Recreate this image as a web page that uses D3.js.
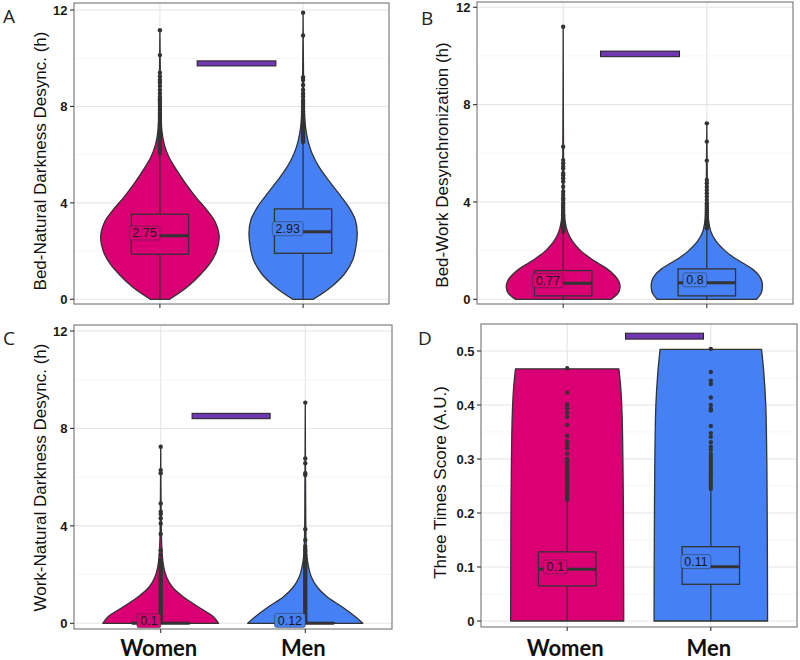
<!DOCTYPE html>
<html><head><meta charset="utf-8">
<script src="https://cdn.jsdelivr.net/npm/d3@7"></script>
<style>body{margin:0;background:#fff} svg{display:block}</style>
</head><body><svg id="c" width="800" height="660"></svg>
<script>
// ---------------- DATA ----------------
const categories = ["Women", "Men"];
const panelIds = ["A", "B", "C", "D"];
const yTitles = ["Bed-Natural Darkness Desync. (h)", "Bed-Work Desynchronization (h)",
                 "Work-Natural Darkness Desync. (h)", "Three Times Score (A.U.)"];
const yTicksHours = [0, 4, 8, 12];
const yMinorHours = [2, 6, 10];
const yTicksScore = [0, 0.1, 0.2, 0.3, 0.4, 0.5];
const yMinorScore = [0.05, 0.15, 0.25, 0.35, 0.45];
const yTickLabelsScore = ["0", "0.1", "0.2", "0.3", "0.4", "0.5"];

// violin profiles: [value, relative half-width (1 = 0.45 category step)]
const violinA_Women = [[0,0.15],[0.5,0.42],[1.0,0.62],[1.5,0.78],[2.0,0.88],[2.6,0.92],[3.2,0.86],[3.7,0.73],[4.2,0.57],[4.8,0.40],[5.4,0.25],[5.9,0.14],[6.4,0.07],[7.0,0.03],[8.0,0.012],[9.5,0.006],[11.16,0]];
const violinA_Men   = [[0,0.16],[0.52,0.44],[1.08,0.65],[1.63,0.77],[2.18,0.82],[2.74,0.84],[3.3,0.81],[3.86,0.70],[4.4,0.55],[4.95,0.39],[5.5,0.245],[6.05,0.14],[6.53,0.08],[7.1,0.04],[8.0,0.015],[9.5,0.006],[11.89,0]];
const violinB_Women = [[0,0.74],[0.25,0.85],[0.5,0.88],[0.75,0.86],[1.0,0.79],[1.25,0.68],[1.5,0.53],[1.75,0.39],[2.0,0.27],[2.4,0.14],[2.8,0.065],[3.2,0.03],[3.7,0.015],[5.0,0.007],[11.25,0]];
const violinB_Men   = [[0,0.77],[0.25,0.84],[0.5,0.86],[0.75,0.85],[1.0,0.80],[1.25,0.70],[1.5,0.55],[1.75,0.40],[2.0,0.28],[2.4,0.14],[2.8,0.06],[3.2,0.03],[3.7,0.015],[5.0,0.007],[7.25,0]];
const violinC_Women = [[0,0.89],[0.27,0.81],[0.68,0.575],[1.09,0.345],[1.5,0.175],[1.91,0.088],[2.32,0.046],[2.73,0.026],[3.5,0.012],[5.0,0.005],[7.25,0]];
const violinC_Men   = [[0,0.885],[0.27,0.77],[0.68,0.565],[1.09,0.334],[1.5,0.18],[1.91,0.092],[2.32,0.05],[2.73,0.026],[3.5,0.012],[5.0,0.006],[9.06,0]];
const violinD_Women = [[0,0.875],[0.1,0.873],[0.2,0.87],[0.3,0.862],[0.38,0.85],[0.43,0.83],[0.467,0.80]];
const violinD_Men   = [[0,0.878],[0.1,0.876],[0.2,0.872],[0.3,0.866],[0.4,0.85],[0.46,0.82],[0.503,0.785]];

// boxplots: [lower whisker, Q1, median, Q3, upper whisker]
const boxA_Women = [0, 1.87, 2.64, 3.53, 6.02];
const boxA_Men   = [0, 1.91, 2.80, 3.75, 6.51];
const boxB_Women = [0, 0.14, 0.66, 1.18, 2.74];
const boxB_Men   = [0, 0.14, 0.68, 1.25, 2.90];
const boxC_Women = [0, 0, 0.005, 0.03, 0.06];
const boxC_Men   = [0, 0, 0.005, 0.03, 0.06];
const boxD_Women = [0, 0.065, 0.0957, 0.128, 0.222];
const boxD_Men   = [0, 0.068, 0.1006, 0.1376, 0.242];

// mean labels
const meansA = [2.75, 2.93];
const meansB = [0.77, 0.8];
const meansC = [0.1, 0.12];
const meansD = [0.1, 0.11];

// outliers
const outliersA_Women = [6.05,6.12,6.2,6.28,6.35,6.43,6.5,6.58,6.66,6.73,6.8,6.9,6.98,7.06,7.15,7.22,7.3,7.4,7.48,7.56,7.65,7.73,7.82,7.9,8.0,8.1,8.2,8.3,8.4,8.54,8.68,8.85,8.99,9.1,9.24,9.4,10.13,11.16];
const outliersA_Men   = [6.52,6.6,6.68,6.75,6.83,6.9,6.98,7.06,7.14,7.22,7.3,7.38,7.46,7.55,7.63,7.72,7.8,7.9,8.0,8.1,8.18,8.27,8.41,8.54,8.68,8.89,9.1,9.21,10.94,11.89];
const outliersB_Women = [2.78,2.85,2.92,3.0,3.07,3.14,3.22,3.3,3.38,3.45,3.52,3.6,3.68,3.76,3.85,3.95,4.08,4.15,4.29,4.42,4.63,4.84,4.97,5.1,5.18,5.38,5.45,5.59,5.72,6.27,11.2];
const outliersB_Men   = [2.92,2.98,3.05,3.12,3.2,3.27,3.35,3.42,3.5,3.58,3.65,3.72,3.8,3.88,3.95,4.08,4.22,4.36,4.49,4.63,4.77,4.9,5.7,6.48,7.23];
const outliersC_Women = [0.06,0.13,0.2,0.27,0.34,0.41,0.48,0.55,0.62,0.69,0.76,0.83,0.9,0.97,1.04,1.11,1.18,1.25,1.32,1.39,1.46,1.53,1.6,1.67,1.74,1.81,1.88,1.95,2.02,2.09,2.16,2.23,2.3,2.37,2.44,2.52,2.6,2.8,3.0,3.67,4.1,4.31,4.49,4.58,4.92,6.16,6.29,7.25];
const outliersC_Men   = [0.06,0.13,0.2,0.27,0.34,0.41,0.48,0.55,0.62,0.69,0.76,0.83,0.9,0.97,1.04,1.11,1.18,1.25,1.32,1.39,1.46,1.53,1.6,1.67,1.74,1.81,1.88,1.95,2.02,2.09,2.16,2.23,2.3,2.37,2.44,2.52,2.66,2.8,2.94,3.04,3.15,3.42,3.86,6.09,6.16,6.57,6.77,9.06];
const outliersD_Women = [0.225,0.23,0.235,0.24,0.245,0.25,0.255,0.26,0.265,0.27,0.275,0.28,0.285,0.29,0.295,0.3,0.31,0.32,0.327,0.333,0.343,0.363,0.378,0.386,0.394,0.401,0.423,0.468];
const outliersD_Men   = [0.245,0.25,0.255,0.26,0.265,0.27,0.275,0.28,0.285,0.29,0.295,0.3,0.305,0.31,0.317,0.323,0.331,0.341,0.348,0.361,0.39,0.393,0.4,0.414,0.439,0.445,0.461,0.504];

// significance bars: [x start (category units), x end, y low, y high]
const sigBarA = [1.26, 1.81, 9.68, 9.89];
const sigBarB = [1.26, 1.81, 9.97, 10.2];
const sigBarC = [1.217, 1.757, 8.40, 8.62];
const sigBarD = [1.406, 1.949, 0.522, 0.533];

// ---------------- STYLE / LAYOUT ----------------
const colors = {Women: "#DA0074", Men: "#4580F4"};
const sigColor = "#7038B0";
const ink = "#333333";
const layout = {
  A: {left:74,  right:389, top:3,   bottom:304, yZero:299.3, yTop:10,  topVal:12,  titleX:45.5,  titleY:161,   letterX:3,   letterY:23},
  B: {left:477, right:793, top:2,   bottom:304, yZero:299.3, yTop:7.3, topVal:12,  titleX:447.5, titleY:165,   letterX:421, letterY:25},
  C: {left:74,  right:392, top:325, bottom:629, yZero:623.3, yTop:331, topVal:12,  titleX:45.5,  titleY:477.5, letterX:3,   letterY:345},
  D: {left:481, right:797, top:324, bottom:627, yZero:621,   yTop:351, topVal:0.5, titleX:445.5, titleY:482.5, letterX:418, letterY:345}
};

const panelData = {
  A: {violins:[violinA_Women, violinA_Men], boxes:[boxA_Women, boxA_Men], means:meansA, outliers:[outliersA_Women, outliersA_Men], sig:sigBarA},
  B: {violins:[violinB_Women, violinB_Men], boxes:[boxB_Women, boxB_Men], means:meansB, outliers:[outliersB_Women, outliersB_Men], sig:sigBarB},
  C: {violins:[violinC_Women, violinC_Men], boxes:[boxC_Women, boxC_Men], means:meansC, outliers:[outliersC_Women, outliersC_Men], sig:sigBarC},
  D: {violins:[violinD_Women, violinD_Men], boxes:[boxD_Women, boxD_Men], means:meansD, outliers:[outliersD_Women, outliersD_Men], sig:sigBarD}
};

const svg = d3.select("#c");

panelIds.forEach((id, pi) => {
  const L = layout[id];
  const P = panelData[id];
  const isScore = id === "D";
  const g = svg.append("g");

  const x = d3.scalePoint().domain(categories).range([L.left, L.right]).padding(0.6);
  const step = x.step();
  const xc = d3.scaleLinear().domain([1, 2]).range([x("Women"), x("Men")]);
  const y = d3.scaleLinear().domain([0, L.topVal]).range([L.yZero, L.yTop]);
  const w = d3.scaleLinear().domain([0, 1]).range([0, 0.45 * step]);

  const majors = isScore ? yTicksScore : yTicksHours;
  const minors = isScore ? yMinorScore : yMinorHours;

  // background
  g.append("rect").attr("x", L.left).attr("y", L.top).attr("width", L.right - L.left).attr("height", L.bottom - L.top).attr("fill", "#fff");
  // grid
  g.selectAll(".minor").data(minors).join("line")
    .attr("x1", L.left).attr("x2", L.right).attr("y1", d => y(d)).attr("y2", d => y(d))
    .attr("stroke", "#F2F2F2").attr("stroke-width", 0.7);
  g.selectAll(".major").data(majors).join("line")
    .attr("x1", L.left).attr("x2", L.right).attr("y1", d => y(d)).attr("y2", d => y(d))
    .attr("stroke", "#E6E6E6").attr("stroke-width", 1.1);
  g.selectAll(".vmajor").data(categories).join("line")
    .attr("x1", d => x(d)).attr("x2", d => x(d)).attr("y1", L.top).attr("y2", L.bottom)
    .attr("stroke", "#E6E6E6").attr("stroke-width", 1.1);

  categories.forEach((cat, ci) => {
    const cx = x(cat);
    const prof = P.violins[ci];
    const area = d3.area()
      .y(d => y(d[0]))
      .x0(d => cx - w(d[1]))
      .x1(d => cx + w(d[1]))
      .curve(d3.curveCatmullRom.alpha(0.5));
    g.append("path").datum(prof).attr("d", area)
      .attr("fill", colors[cat]).attr("stroke", ink).attr("stroke-width", 1.3).attr("stroke-linejoin", "round");

    // boxplot
    const b = P.boxes[ci];
    const bw = 0.4 * step;
    g.append("line").attr("x1", cx).attr("x2", cx).attr("y1", y(b[0])).attr("y2", y(b[1]))
      .attr("stroke", ink).attr("stroke-width", 1.3);
    g.append("line").attr("x1", cx).attr("x2", cx).attr("y1", y(b[3])).attr("y2", y(b[4]))
      .attr("stroke", ink).attr("stroke-width", 1.3);
    g.append("rect").attr("x", cx - bw / 2).attr("width", bw)
      .attr("y", y(b[3])).attr("height", Math.max(0.5, y(b[1]) - y(b[3])))
      .attr("fill", "none").attr("stroke", ink).attr("stroke-width", 1.3);
    g.append("line").attr("x1", cx - bw / 2).attr("x2", cx + bw / 2).attr("y1", y(b[2])).attr("y2", y(b[2]))
      .attr("stroke", ink).attr("stroke-width", 3);

    // outliers
    g.selectAll(null).data(P.outliers[ci]).join("circle")
      .attr("cx", cx).attr("cy", d => y(d)).attr("r", 2.2).attr("fill", ink);

    // mean label
    const ym = y(P.means[ci]);
    const lg = g.append("g");
    const rect = lg.append("rect");
    const t = lg.append("text").text(P.means[ci])
      .attr("x", cx - 3.2).attr("y", ym).attr("dy", "0.35em")
      .attr("text-anchor", "end").attr("font-family", "Liberation Sans, Arial, sans-serif")
      .attr("font-size", 12.5).attr("fill", "#1a1a1a");
    const tw = t.node().getComputedTextLength();
    rect.attr("x", cx - tw - 6.4).attr("y", ym - 7).attr("width", tw + 6.4).attr("height", 14)
      .attr("rx", 2).attr("fill", colors[cat]).attr("stroke", "#333").attr("stroke-opacity", 0.6).attr("stroke-width", 0.8);
  });

  // significance bar
  const s = P.sig;
  g.append("rect").attr("x", xc(s[0])).attr("width", xc(s[1]) - xc(s[0]))
    .attr("y", y(s[3])).attr("height", y(s[2]) - y(s[3]))
    .attr("fill", sigColor).attr("stroke", "#222").attr("stroke-width", 1);

  // border
  g.append("rect").attr("x", L.left).attr("y", L.top).attr("width", L.right - L.left).attr("height", L.bottom - L.top)
    .attr("fill", "none").attr("stroke", "#7F7F7F").attr("stroke-width", 1.2);

  // y ticks
  const tickLabels = isScore ? yTickLabelsScore : majors.map(String);
  g.selectAll(".yt").data(majors).join("line")
    .attr("x1", L.left - 4).attr("x2", L.left).attr("y1", d => y(d)).attr("y2", d => y(d))
    .attr("stroke", ink).attr("stroke-width", 1.1);
  g.selectAll(".ytl").data(majors).join("text")
    .attr("x", L.left - 6.5).attr("y", d => y(d)).attr("dy", "0.36em")
    .attr("text-anchor", "end").attr("font-family", "Liberation Sans, Arial, sans-serif")
    .attr("font-weight", "bold").attr("font-size", 13).attr("fill", "#1a1a1a")
    .text((d, i) => tickLabels[i]);
  // x ticks
  g.selectAll(".xt").data(categories).join("line")
    .attr("x1", d => x(d)).attr("x2", d => x(d)).attr("y1", L.bottom).attr("y2", L.bottom + 4)
    .attr("stroke", ink).attr("stroke-width", 1.1);

  // x labels (bottom row)
  if (id === "C" || id === "D") {
    g.selectAll(".xl").data(categories).join("text")
      .attr("x", d => x(d) - 2).attr("y", 656)
      .attr("text-anchor", "middle").attr("font-family", "Lato, 'Open Sans', sans-serif")
      .attr("font-weight", "bold").attr("font-size", 22).attr("fill", "#111")
      .text(d => d);
  }

  // y title
  g.append("text").attr("transform", `translate(${L.titleX},${L.titleY}) rotate(-90)`)
    .attr("text-anchor", "middle").attr("font-family", "Liberation Sans, Arial, sans-serif")
    .attr("font-size", 17).attr("fill", "#111").text(yTitles[pi]);

  // panel letter
  g.append("text").attr("x", L.letterX).attr("y", L.letterY)
    .attr("font-family", "'Open Sans', sans-serif").attr("font-size", 19).attr("fill", "#222")
    .text(id);
});
</script>
</body></html>
